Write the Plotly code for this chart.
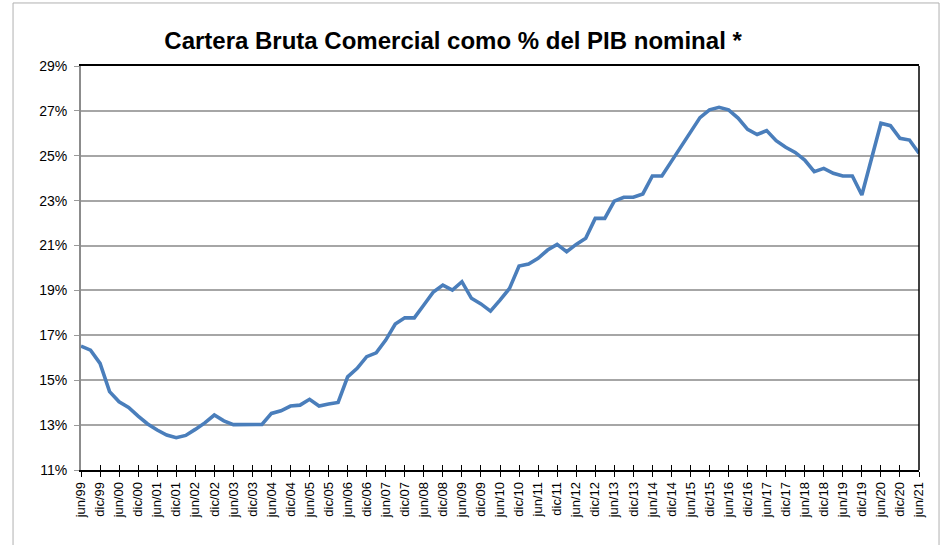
import plotly.graph_objects as go

# Quarterly periods, jun/99 .. jun/21
months = ["jun", "sep", "dic", "mar"]
periods = []
year = 1999
for k in range(89):
    m = months[k % 4]
    if m == "mar":
        year += 1
    periods.append(f"{m}/{year % 100:02d}")

# Commercial gross loan portfolio as % of nominal GDP
cartera_pib = [
    16.52, 16.34, 15.75, 14.49, 14.04, 13.79, 13.40, 13.05, 12.78, 12.56,
    12.44, 12.54, 12.81, 13.10, 13.45, 13.19, 13.02, 13.02, 13.02, 13.03,
    13.52, 13.64, 13.85, 13.89, 14.15, 13.85, 13.94, 14.01, 15.15, 15.53,
    16.05, 16.22, 16.79, 17.50, 17.78, 17.78, 18.35, 18.93, 19.24, 19.02,
    19.39, 18.65, 18.40, 18.08, 18.57, 19.09, 20.09, 20.18, 20.43, 20.80,
    21.05, 20.73, 21.05, 21.32, 22.21, 22.21, 22.98, 23.15, 23.15, 23.30,
    24.10, 24.10, 24.75, 25.38, 26.04, 26.70, 27.05, 27.16, 27.05, 26.68,
    26.18, 25.95, 26.12, 25.67, 25.38, 25.15, 24.81, 24.29, 24.44, 24.22,
    24.10, 24.10, 23.25, 24.85, 26.45, 26.34, 25.78, 25.70, 25.11,
]

# Labelled ticks: every other quarter (jun and dic)
tick_labels = periods[::2]
y_ticks = [11, 13, 15, 17, 19, 21, 23, 25, 27, 29]

FONT = "Liberation Sans, Arial, sans-serif"

fig = go.Figure()
fig.add_trace(go.Scatter(
    x=periods, y=cartera_pib, mode="lines",
    line=dict(color="#4a7ebb", width=3.6),
    hoverinfo="x+y", showlegend=False,
))
# duplicate (invisible) trace on the overlay axis that carries inner ticks
fig.add_trace(go.Scatter(
    x=periods, y=cartera_pib, mode="lines", xaxis="x2",
    line=dict(color="rgba(0,0,0,0)", width=0),
    hoverinfo="skip", showlegend=False,
))

fig.update_layout(
    width=945, height=545,
    margin=dict(l=81, r=26, t=66, b=75),
    paper_bgcolor="white", plot_bgcolor="white",
    font=dict(family=FONT, color="black"),
    title=dict(
        text="<b>Cartera Bruta Comercial como % del PIB nominal *</b>",
        font=dict(family=FONT, size=24, color="black"),
        x=0.444, xref="paper", xanchor="center",
        y=0.926, yref="container", yanchor="middle",
    ),
    xaxis=dict(
        type="category", range=[0, len(periods) - 1],
        tickmode="array", tickvals=tick_labels, ticktext=tick_labels,
        tickangle=-90, tickfont=dict(size=13, family=FONT),
        ticks="outside", ticklen=5, tickwidth=1, tickcolor="black",
        showline=True, linecolor="black", linewidth=1.5, mirror=True,
        showgrid=False, zeroline=False,
    ),
    xaxis2=dict(
        type="category", overlaying="x", matches="x", anchor="y", side="bottom",
        tickmode="array", tickvals=tick_labels,
        ticks="inside", ticklen=5, tickwidth=1, tickcolor="black",
        showticklabels=False, showline=False, showgrid=False, zeroline=False,
    ),
    yaxis=dict(
        range=[11, 29], tickmode="array", tickvals=y_ticks,
        ticktext=[f"{v}%" for v in y_ticks],
        tickfont=dict(size=14, family=FONT),
        ticklabelstandoff=4,
        ticks="outside", ticklen=5, tickwidth=1, tickcolor="#9a9a9a",
        showline=True, linecolor="#8c8c8c", linewidth=2,
        showgrid=True, gridcolor="#a6a6a6", gridwidth=1.5,
        zeroline=False,
    ),
    shapes=[
        # right-hand plot border
        dict(type="line", xref="paper", yref="paper", x0=1, x1=1, y0=0, y1=1,
             line=dict(color="black", width=1.5)),
        # outer chart frame
        dict(type="rect", xref="paper", yref="paper",
             x0=-0.0811, x1=1.0239, y0=-0.25, y1=1.156,
             line=dict(color="#b0b0b0", width=1), layer="below"),
    ],
)

fig.write_html("out.html")
